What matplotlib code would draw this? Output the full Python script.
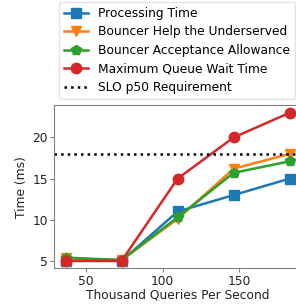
import matplotlib
matplotlib.use("Agg")
import matplotlib.pyplot as plt

qps = [36.6, 73.2, 109.8, 146.4, 183.0]
processing = [5.0, 5.0, 11.0, 13.0, 15.0]
help_underserved = [5.3, 5.1, 10.1, 16.2, 18.0]
acceptance = [5.4, 5.1, 10.3, 15.7, 17.1]
max_wait = [5.0, 5.0, 15.0, 20.0, 23.0]
slo = 18.0

plt.rcParams['axes.edgecolor'] = '#808080'
plt.rcParams['xtick.color'] = '#808080'
plt.rcParams['ytick.color'] = '#808080'
plt.rcParams['xtick.labelcolor'] = '#222222'
plt.rcParams['ytick.labelcolor'] = '#222222'

fig = plt.figure(figsize=(2.96, 3.07), dpi=100)
ax = fig.add_axes([54.3/296, 1-268.3/307, (301-54.3)/296, (268.3-105.3)/307])

fs = 8.8
ms = 7.5
lw = 1.8
ax.plot(qps, processing, marker='s', color='#1f77b4', lw=lw, ms=ms, label='Processing Time')
ax.plot(qps, help_underserved, marker='v', color='#ff7f0e', lw=lw, ms=ms, label='Bouncer Help the Underserved')
ax.plot(qps, acceptance, marker='p', color='#2ca02c', lw=lw, ms=ms, label='Bouncer Acceptance Allowance')
ax.plot(qps, max_wait, marker='o', color='#d62728', lw=lw, ms=ms, label='Maximum Queue Wait Time')
ax.axhline(slo, color='black', ls=':', lw=lw, label='SLO p50 Requirement')

ax.set_xticks([50, 100, 150])
ax.set_yticks([5, 10, 15, 20])
ax.tick_params(labelsize=fs, length=3, pad=1.5)
ax.set_xlabel('Thousand Queries Per Second', fontsize=fs, color='#222222', labelpad=1)
ax.set_ylabel('Time (ms)', fontsize=fs, color='#222222', labelpad=3)

fig.legend(loc='upper left', bbox_to_anchor=(59/296, 1-2/307), fontsize=fs,
           frameon=True, edgecolor='#dddddd', borderaxespad=0, labelspacing=0.45)

fig.savefig('out.png', dpi=100)
